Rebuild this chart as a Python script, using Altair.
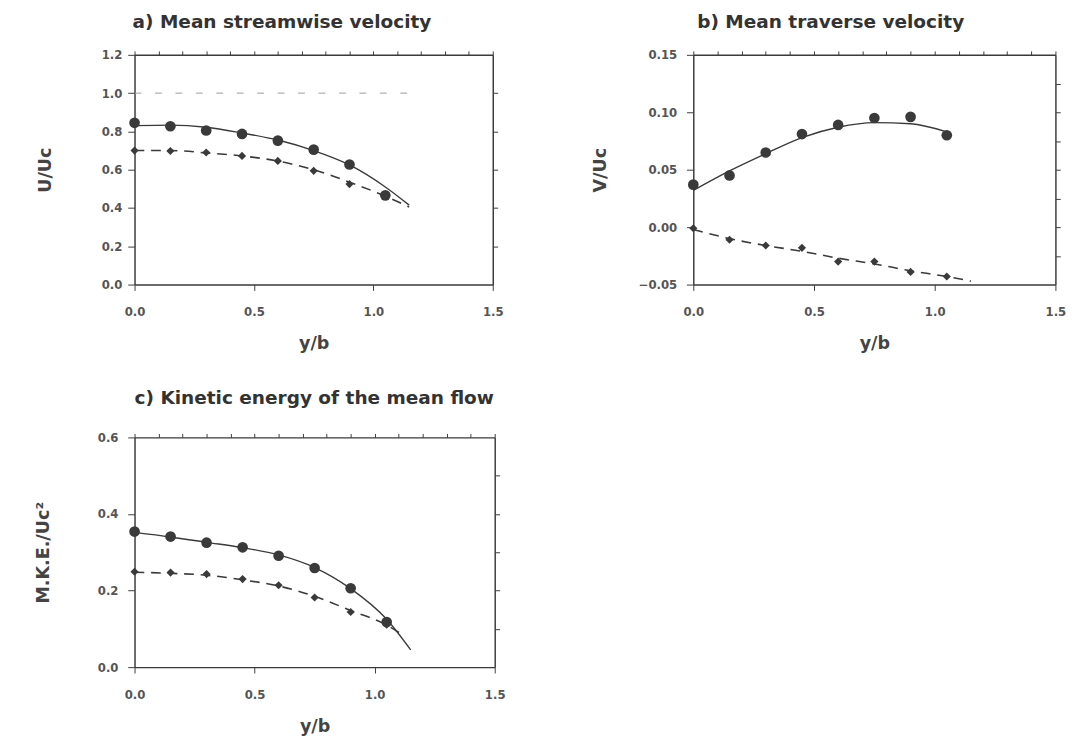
import altair as alt
import pandas as pd

# ---------------- data ----------------
x_pts = [0.0, 0.15, 0.30, 0.45, 0.60, 0.75, 0.90, 1.05]
fit_x = [0.0, 0.15, 0.30, 0.45, 0.60, 0.75, 0.90, 1.05, 1.15]

# a) Mean streamwise velocity
a_circ = [0.845, 0.827, 0.805, 0.787, 0.752, 0.705, 0.627, 0.466]
a_diam = [0.700, 0.698, 0.690, 0.672, 0.646, 0.594, 0.525, 0.462]
a_fit_solid = [0.830, 0.833, 0.822, 0.792, 0.755, 0.700, 0.625, 0.510, 0.415]
a_fit_dash = [0.700, 0.700, 0.688, 0.672, 0.645, 0.600, 0.535, 0.462, 0.405]
a_ref_x = [0.0, 1.16]
a_ref_y = [1.0, 1.0]

# b) Mean traverse velocity
b_circ = [0.037, 0.045, 0.065, 0.081, 0.089, 0.095, 0.096, 0.080]
b_diam = [-0.001, -0.011, -0.016, -0.018, -0.030, -0.030, -0.039, -0.043]
b_fit_solid_x = [0.0, 0.15, 0.30, 0.45, 0.60, 0.75, 0.90, 1.05]
b_fit_solid = [0.032, 0.049, 0.064, 0.078, 0.087, 0.091, 0.090, 0.083]
b_fit_dash = [-0.002, -0.010, -0.016, -0.021, -0.027, -0.032, -0.038, -0.043, -0.047]

# c) Kinetic energy of the mean flow
c_circ = [0.354, 0.341, 0.325, 0.313, 0.291, 0.259, 0.206, 0.118]
c_diam = [0.249, 0.247, 0.243, 0.230, 0.214, 0.182, 0.144, 0.111]
c_fit_solid = [0.352, 0.340, 0.326, 0.312, 0.293, 0.260, 0.205, 0.125, 0.045]
c_fit_dash_x = [0.0, 0.15, 0.30, 0.45, 0.60, 0.75, 0.90, 1.05, 1.12]
c_fit_dash = [0.248, 0.245, 0.240, 0.228, 0.212, 0.185, 0.148, 0.110, 0.083]

x_ticks = [0.0, 0.5, 1.0, 1.5]
x_minor = [round(i * 0.1, 1) for i in range(16)]

INK = "#3a3a3a"
FONT = "DejaVu Sans"


def panel(title, dx, circ, diam, sx, sy, dxs, dys, ydom, yticks, yright,
          ytitle, yfmt, ytp, ylp, width, toff, ref=None):
    xs = alt.Scale(domain=[0, 1.5], nice=False, zero=False)
    ys = alt.Scale(domain=ydom, nice=False, zero=False)
    pts = pd.DataFrame({"x": x_pts, "circ": circ, "diam": diam})
    solid = pd.DataFrame({"x": sx, "y": sy})
    dash = pd.DataFrame({"x": dxs, "y": dys})

    frame = alt.Chart(pts).mark_point(opacity=0).encode(
        x=alt.X("x:Q", scale=xs, axis=alt.Axis(
            orient="top", values=x_minor, labels=False, title=None,
            tickSize=4, domainColor=INK, tickColor=INK, domainWidth=1.5, grid=False)),
        y=alt.Y("circ:Q", scale=ys, axis=alt.Axis(
            orient="right", values=yright, labels=False, title=None,
            tickSize=5, domainColor=INK, tickColor=INK, domainWidth=1.5, grid=False)),
    )
    main = alt.Chart(pts).mark_point(filled=True, size=120, color=INK, opacity=1).encode(
        x=alt.X("x:Q", scale=xs, axis=alt.Axis(
            orient="bottom", values=x_ticks, format=".1f", title="y/b",
            tickSize=6, labelPadding=17, titlePadding=18, labelFlush=False,
            domainColor=INK, tickColor=INK, domainWidth=1.5, grid=False)),
        y=alt.Y("circ:Q", scale=ys, axis=alt.Axis(
            orient="left", values=yticks, format=yfmt, title=ytitle,
            tickSize=7, labelPadding=ylp, titlePadding=ytp, labelFlush=False,
            domainColor=INK, tickColor=INK, domainWidth=1.5, grid=False)),
    )
    diamonds = alt.Chart(pts).mark_point(filled=True, shape="diamond", size=70,
                                         color=INK, opacity=1).encode(
        x=alt.X("x:Q", scale=xs, axis=None),
        y=alt.Y("diam:Q", scale=ys, axis=None),
    )
    sline = alt.Chart(solid).mark_line(color=INK, strokeWidth=1.4,
                                       interpolate="monotone").encode(
        x=alt.X("x:Q", scale=xs, axis=None),
        y=alt.Y("y:Q", scale=ys, axis=None),
    )
    dline = alt.Chart(dash).mark_line(color=INK, strokeWidth=1.6,
                                      strokeDash=[10, 7],
                                      interpolate="monotone").encode(
        x=alt.X("x:Q", scale=xs, axis=None),
        y=alt.Y("y:Q", scale=ys, axis=None),
    )
    layers = [frame, main]
    if ref is not None:
        rdf = pd.DataFrame({"x": ref[0], "y": ref[1]})
        layers.append(alt.Chart(rdf).mark_line(color="#9a9a9a", strokeWidth=1,
                                               strokeDash=[7, 14]).encode(
            x=alt.X("x:Q", scale=xs, axis=None),
            y=alt.Y("y:Q", scale=ys, axis=None),
        ))
    layers += [sline, dline, diamonds]
    return alt.layer(*layers).resolve_axis(x="independent", y="independent").properties(
        width=width, height=236,
        title=alt.TitleParams(title, anchor="start", frame="group", dx=dx,
                              offset=toff, fontSize=19, fontWeight="bold",
                              font=FONT, color="#333333"),
    )


pa = panel("a) Mean streamwise velocity", -2, a_circ, a_diam, fit_x, a_fit_solid,
           fit_x, a_fit_dash, [0, 1.2], [0, 0.2, 0.4, 0.6, 0.8, 1.0, 1.2],
           [0.2, 0.4, 0.6, 0.8, 1.0], "U/Uc", ".1f", 48, 6, 368, 18,
           ref=(a_ref_x, a_ref_y))
pb = panel("b) Mean traverse velocity", 4, b_circ, b_diam, b_fit_solid_x, b_fit_solid,
           fit_x, b_fit_dash, [-0.05, 0.15], [-0.05, 0.0, 0.05, 0.10, 0.15],
           [-0.025, 0.0, 0.025, 0.05, 0.075, 0.10, 0.125], "V/Uc", ".2f", 30, 10,
           372, 18)
pc = panel("c) Kinetic energy of the mean flow", 0, c_circ, c_diam, fit_x, c_fit_solid,
           c_fit_dash_x, c_fit_dash, [0, 0.6], [0, 0.2, 0.4, 0.6],
           [0.1, 0.2, 0.3, 0.4, 0.5], "M.K.E./Uc²", ".1f", 46, 10, 370, 24)

chart = alt.vconcat(
    alt.hconcat(pa, pb, spacing=90),
    pc,
    spacing=38,
).properties(
    padding={"left": 27, "top": -5, "right": 5, "bottom": 5},
    background="white",
).configure_view(stroke=None).configure_axis(
    labelFont=FONT, labelFontSize=12, labelFontWeight="bold", labelColor="#555555",
    titleFont=FONT, titleFontSize=18, titleFontWeight="bold", titleColor="#444444",
)

chart.save("out.html", embed_options={"renderer": "svg", "actions": False})
